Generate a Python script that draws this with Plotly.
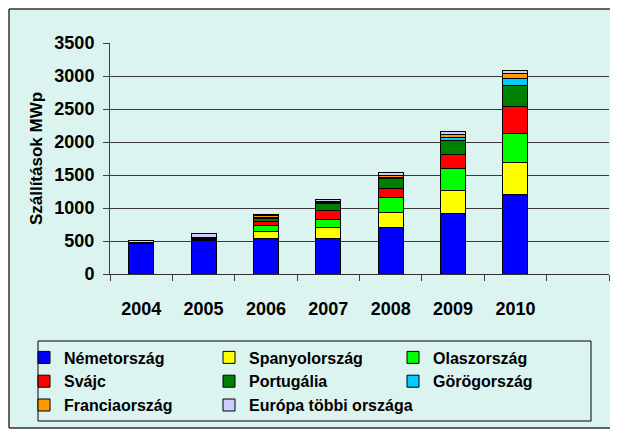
import plotly.graph_objects as go

years = ["2004", "2005", "2006", "2007", "2008", "2009", "2010"]
series_names = ["Németország", "Spanyolország", "Olaszország", "Svájc",
                "Portugália", "Görögország", "Franciaország", "Európa többi országa"]
nemetorszag = [455, 505, 540, 540, 712, 924, 1202]
spanyolorszag = [10, 22, 110, 170, 222, 338, 490]
olaszorszag = [5, 8, 90, 120, 227, 343, 444]
svajc = [3, 5, 50, 130, 136, 202, 409]
portugalia = [3, 5, 55, 110, 157, 217, 308]
gorogorszag = [2, 3, 15, 15, 15, 50, 116]
franciaorszag = [5, 8, 20, 20, 25, 35, 76]
europa_tobbi = [20, 55, 25, 20, 45, 45, 35]

values = [nemetorszag, spanyolorszag, olaszorszag, svajc,
          portugalia, gorogorszag, franciaorszag, europa_tobbi]
colors = ["#0000FF", "#FFFF00", "#00FF00", "#FF0000",
          "#008000", "#00CCFF", "#FF9900", "#CCCCFF"]
legend_of = ["legend", "legend2", "legend3", "legend",
             "legend2", "legend3", "legend", "legend2"]

BG = "#DCF4F0"
OFF = 8  # default page body margin
W, H = 618 - OFF, 430 - OFF
PL, PR, PT, PB = 110, 609, 43, 274  # plot area in page pixels
L, R, T, B = PL - OFF, W - (PR - OFF), PT - OFF, H - (PB - OFF)
PW, PH = W - L - R, H - T - B


def px_x(x):
    return (x - OFF - L) / PW


def px_y(y):
    return (H - B - (y - OFF)) / PH


def cy(y):
    return 1 - (y - OFF) / H


fig = go.Figure()
for name, vals, col, lg in zip(series_names, values, colors, legend_of):
    fig.add_trace(go.Bar(
        x=years, y=vals, name=name, legend=lg, legendgroup=name,
        marker=dict(color=col, line=dict(color="#000000", width=1)),
    ))

legend_common = dict(
    orientation="v", yanchor="top", xanchor="left",
    xref="paper", yref="container",
    bgcolor="rgba(0,0,0,0)", borderwidth=0,
    traceorder="grouped", tracegroupgap=0,
    font=dict(family="Liberation Sans, Arial", size=16, color="#000000",
              weight="bold"),
    itemclick=False, itemdoubleclick=False,
)
leg_top = cy(340.5)

frame_line = dict(color="#333333", width=1.5)
fx0, fx1 = px_x(9), px_x(640)
fy0, fy1 = px_y(428), px_y(9)

fig.update_layout(
    width=W, height=H,
    margin=dict(l=L, r=R, t=T, b=B, pad=0),
    paper_bgcolor="#FFFFFF",
    plot_bgcolor=BG,
    barmode="stack",
    bargap=0.6,
    font=dict(family="Liberation Sans, Arial", color="#000000"),
    legend=dict(legend_common, x=px_x(24), y=leg_top),
    legend2=dict(legend_common, x=px_x(209), y=leg_top),
    legend3=dict(legend_common, x=px_x(393), y=leg_top),
    xaxis=dict(
        type="category", categoryorder="array", categoryarray=years + [" "],
        range=[-0.5, 7.5], tickson="boundaries",
        ticks="outside", ticklen=6, tickcolor="#404040", tickwidth=1,
        showline=True, linecolor="#303030", linewidth=1,
        showgrid=False, ticklabelstandoff=18,
        tickfont=dict(size=18, weight="bold", color="#000000"),
    ),
    yaxis=dict(
        range=[0, 3500], dtick=500, tick0=0,
        ticks="outside", ticklen=6, tickcolor="#404040", tickwidth=1,
        showline=True, linecolor="#404040", linewidth=1,
        showgrid=True, gridcolor="#3a3a3a", gridwidth=1,
        zeroline=False, ticklabelstandoff=5,
        tickfont=dict(size=18, weight="bold", color="#000000"),
        title=dict(text="Szállítások MWp", standoff=7,
                   font=dict(size=17, weight="bold", color="#000000")),
    ),
    shapes=[
        dict(type="rect", xref="paper", yref="paper", layer="below",
             x0=fx0, x1=fx1, y0=fy0, y1=fy1,
             fillcolor=BG, line=dict(width=0)),
        dict(type="line", xref="paper", yref="paper", layer="above",
             x0=fx0, x1=fx1, y0=fy1, y1=fy1, line=frame_line),
        dict(type="line", xref="paper", yref="paper", layer="above",
             x0=fx0, x1=fx1, y0=fy0, y1=fy0, line=frame_line),
        dict(type="line", xref="paper", yref="paper", layer="above",
             x0=fx0, x1=fx0, y0=fy0, y1=fy1, line=frame_line),
        dict(type="rect", xref="paper", yref="paper", layer="above",
             x0=px_x(38), x1=px_x(591), y0=px_y(421), y1=px_y(341),
             fillcolor="rgba(0,0,0,0)", line=dict(color="#000000", width=1)),
    ],
)

fig.write_html("out.html")
